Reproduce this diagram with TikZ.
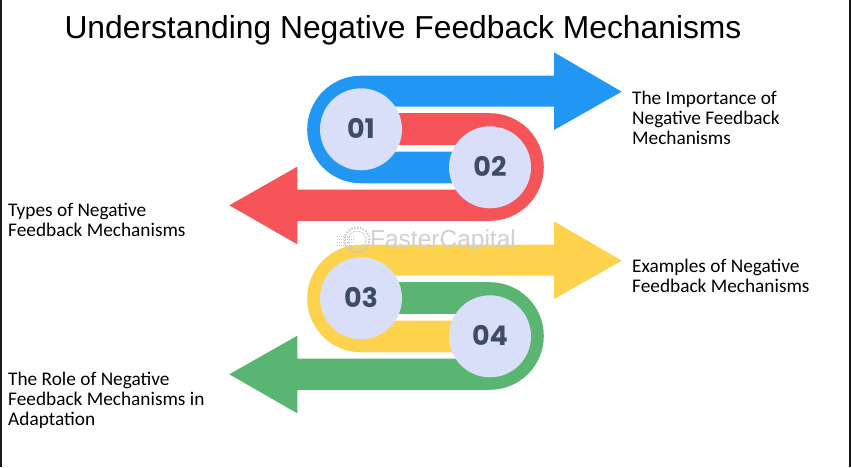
\documentclass[tikz,border=0pt]{standalone}
\usepackage{fontspec}
\setmainfont{Carlito}
\newfontfamily\titlefont{Liberation Sans}
\newfontfamily\digitfont{Poppins}
\definecolor{fbblue}{HTML}{2196F3}
\definecolor{fbred}{HTML}{F55459}
\definecolor{fbyellow}{HTML}{FDD34D}
\definecolor{fbgreen}{HTML}{5BB572}
\definecolor{fbdisc}{HTML}{D9DEF9}
\definecolor{fbdigit}{HTML}{3F4D63}
\tikzset{
  disc/.style={circle, fill=fbdisc, minimum size=82pt, inner sep=0pt, text=fbdigit, font=\digitfont\bfseries\fontsize{27}{27}\selectfont},
  caption/.style={anchor=north west, align=left, inner sep=0pt, font=\fontsize{19.3}{20}\selectfont}
}
\begin{document}
\begin{tikzpicture}[x=1pt, y=1pt]
    \useasboundingbox (0,0) rectangle (851,467);
    \fill[white] (0,0) rectangle (851,467);
    % Frame on both sides
    \draw[black!90, line width=1.6pt] (0.8,0) -- (0.8,467);
    \draw[black!90, line width=2pt] (850,0) -- (850,467);

    % Title
    \node (title) at (403,437) {\titlefont\fontsize{31.8}{32}\selectfont Understanding Negative Feedback Mechanisms};

    % Upper pair of arrows
    \fill[fbred] (361,353.8) -- (490,353.8) arc (90:-90:53.8pt) -- (297.3,246) -- (297.3,222.7) -- (229.3,261.7) -- (297.3,300.3) -- (297.3,277.3) -- (490,277.3) arc (-90:90:22.4pt) -- (361,322) -- cycle;
    \fill[fbblue] (490,283.7) -- (361,283.7) arc (270:90:53.8pt) -- (554,391.3) -- (554,414.7) -- (621.7,375.3) -- (554,337) -- (554,360.3) -- (361,360.3) arc (90:270:22.5pt) -- (490,315.3) -- cycle;
    \node[disc] (n01) at (361,337.7) {\raisebox{1pt}{01}};
    \node[disc] (n02) at (490,299.7) {\raisebox{1pt}{02}};

    % Lower pair of arrows
    \begin{scope}[yshift=-169pt]
    \fill[fbgreen] (361,353.8) -- (490,353.8) arc (90:-90:53.8pt) -- (297.3,246) -- (297.3,222.7) -- (229.3,261.7) -- (297.3,300.3) -- (297.3,277.3) -- (490,277.3) arc (-90:90:22.4pt) -- (361,322) -- cycle;
    \fill[fbyellow] (490,283.7) -- (361,283.7) arc (270:90:53.8pt) -- (554,391.3) -- (554,414.7) -- (621.7,375.3) -- (554,337) -- (554,360.3) -- (361,360.3) arc (90:270:22.5pt) -- (490,315.3) -- cycle;
    \node[disc] (n03) at (361,337.7) {\raisebox{1pt}{03}};
    \node[disc] (n04) at (490,299.7) {\raisebox{1pt}{04}};
    \end{scope}

    % Faint mark between the pairs
    \draw[black!22, line width=2pt, dash pattern=on 1.5pt off 1.5pt] (357,227) circle (12.5pt);
    \draw[black!20, line width=0.6pt] (357,227) circle (9pt);
    \foreach \y in {222,225,228,231} {
      \draw[black!22, line width=0.8pt, dash pattern=on 1pt off 1pt] (337,\y) -- (354,\y);
    }
    \node (mark) at (443,225.5) {\titlefont\fontsize{24.5}{25}\selectfont\color{black!18}FasterCapital};

    % Captions
    \node[caption] (cap1) at (632,376) {The Importance of\\Negative Feedback\\Mechanisms};
    \node[caption] (cap2) at (8,264) {Types of Negative\\Feedback Mechanisms};
    \node[caption] (cap3) at (632,208) {Examples of Negative\\Feedback Mechanisms};
    \node[caption] (cap4) at (8,95) {The Role of Negative\\Feedback Mechanisms in\\Adaptation};
\end{tikzpicture}
\end{document}
